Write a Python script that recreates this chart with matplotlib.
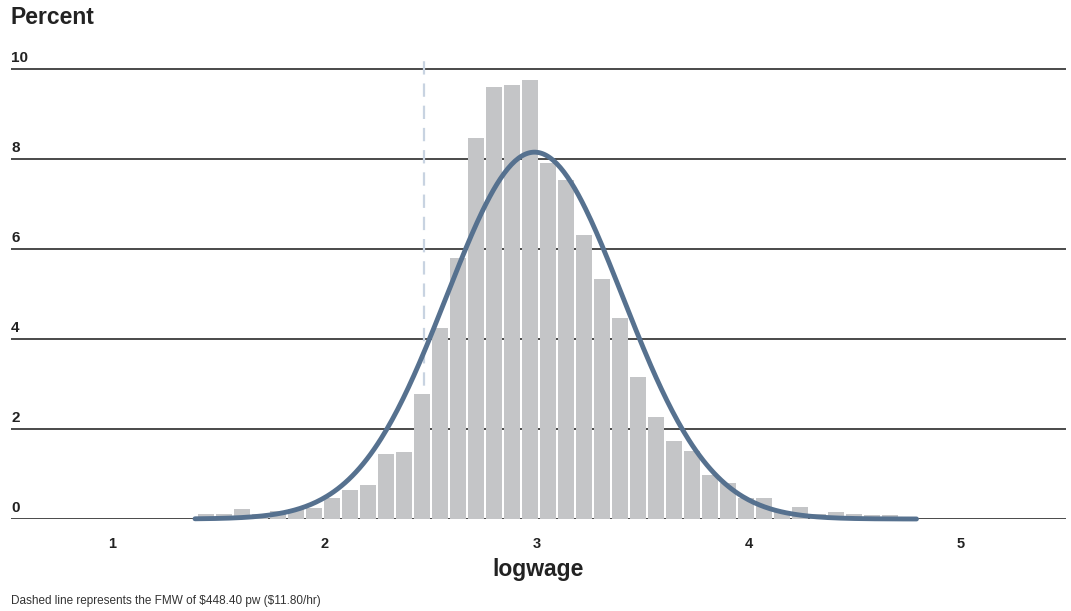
import numpy as np
import matplotlib

matplotlib.use('Agg')
import matplotlib.pyplot as plt

plt.rcParams['font.family'] = ['Liberation Sans', 'DejaVu Sans']

# histogram of logwage, percent per bin
bin_start = 1.40
bin_width = 0.0848
percent = [0.11, 0.11, 0.22, 0.12, 0.18, 0.22, 0.24, 0.47, 0.64, 0.76,
           1.44, 1.49, 2.78, 4.25, 5.80, 8.47, 9.60, 9.64, 9.76, 7.91,
           7.53, 6.30, 5.33, 4.47, 3.16, 2.27, 1.73, 1.51, 0.98, 0.80,
           0.47, 0.47, 0.15, 0.27, 0.11, 0.16, 0.11, 0.09, 0.09, 0.03]

# fitted normal curve
norm_mean = 2.99
norm_sd = 0.415
curve_min = 1.39
curve_max = 4.79

fmw_logwage = 2.47  # log of $11.80/hr

x_ticks = [1, 2, 3, 4, 5]
y_ticks = [0, 2, 4, 6, 8, 10]

fig = plt.figure(figsize=(10.71, 6.11), dpi=100)
ax = fig.add_axes([11 / 1071, 92 / 611, 1055 / 1071, 459 / 611])

centers = bin_start + bin_width * (np.arange(len(percent)) + 0.5)
ax.bar(centers, percent, width=bin_width * 16 / 18, color='#c4c5c7', zorder=3)

xs = np.linspace(curve_min, curve_max, 400)
ys = 100 * bin_width * np.exp(-0.5 * ((xs - norm_mean) / norm_sd) ** 2) / (norm_sd * np.sqrt(2 * np.pi))
ax.plot(xs, ys, color='#56718f', lw=3.5, solid_capstyle='round', zorder=4, clip_on=False)

ax.plot([fmw_logwage, fmw_logwage], [0, 10.2], color='#c8d3e1', lw=1.6,
        dashes=(6, 4), zorder=2)

ax.set_xlim(0.5228, 5.4946)
ax.set_ylim(0, 10.2)

for v in y_ticks:
    ax.axhline(v, color='#2b2b2b', lw=1.2, zorder=1)
    ax.annotate(str(v), xy=(0, v), xycoords=ax.get_yaxis_transform(),
                xytext=(0, 3), textcoords='offset points',
                ha='left', va='bottom', fontsize=11, fontweight='bold', color='#222222')

ax.set_yticks([])
ax.set_xticks(x_ticks)
ax.set_xticklabels([str(t) for t in x_ticks], fontsize=10.5, fontweight='bold', color='#222222')
ax.tick_params(axis='x', length=0, pad=13)
for s in ax.spines.values():
    s.set_visible(False)

ax.set_xlabel('logwage', fontsize=16.5, fontweight='bold', color='#222222', labelpad=5)

fig.text(11 / 1071, 1 - 17 / 611, 'Percent', ha='left', va='center',
         fontsize=16.5, fontweight='bold', color='#222222')
fig.text(11 / 1071, 1 - 601 / 611, r'Dashed line represents the FMW of \$448.40 pw (\$11.80/hr)',
         ha='left', va='center', fontsize=8.5, color='#333333')

fig.savefig('out.png', dpi=100)
